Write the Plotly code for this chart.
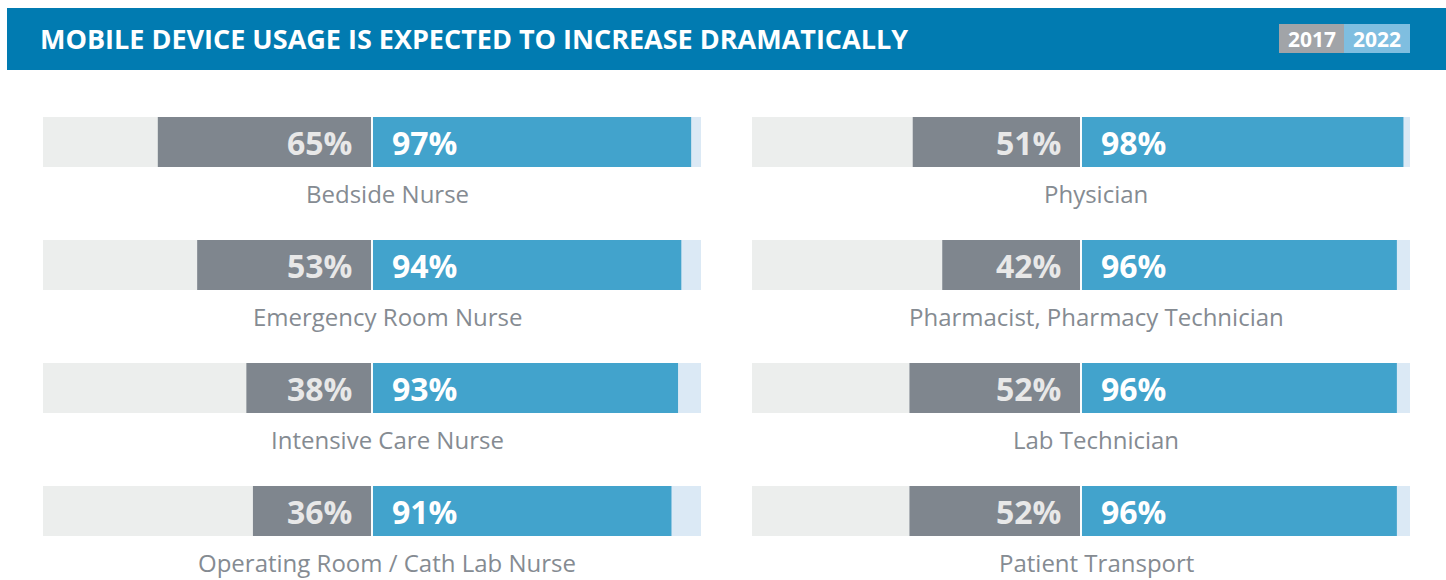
import plotly.graph_objects as go

# ---------------- data ----------------
title = "MOBILE DEVICE USAGE IS EXPECTED TO INCREASE DRAMATICALLY"
years = ["2017", "2022"]

left_roles = ["Bedside Nurse", "Emergency Room Nurse", "Intensive Care Nurse",
              "Operating Room / Cath Lab Nurse"]
left_2017 = [65, 53, 38, 36]
left_2022 = [97, 94, 93, 91]

right_roles = ["Physician", "Pharmacist, Pharmacy Technician", "Lab Technician",
               "Patient Transport"]
right_2017 = [51, 42, 52, 52]
right_2022 = [98, 96, 96, 96]

full_scale = [100, 100, 100, 100]

# ---------------- style ----------------
W, H = 1446, 580
HEADER_BLUE = "#017bb1"
GRAY = "#7f868e"
BLUE = "#42a3cc"
BG_GRAY = "#eceeed"
BG_BLUE = "#dbe9f5"
LABEL_GRAY = "#858b92"
FONT = "Open Sans"

GAP = 0.3           # half gap between the two halves (axis units)
PX_PER_UNIT = 3.28  # 328 px per 100 %
rows = list(range(4))
BAR_W = 50 / 123
LABEL_OFF = 51.5 / 123

fig = go.Figure()


def add_panel(xa, roles, v17, v22):
    xref = "x" if xa == "x" else "x2"
    # backgrounds
    fig.add_trace(go.Bar(y=rows, x=[-v for v in full_scale], base=-GAP, orientation="h",
                         marker=dict(color=BG_GRAY, line_width=0), width=BAR_W,
                         xaxis=xref, yaxis="y", hoverinfo="skip", showlegend=False))
    fig.add_trace(go.Bar(y=rows, x=full_scale, base=GAP, orientation="h",
                         marker=dict(color=BG_BLUE, line_width=0), width=BAR_W,
                         xaxis=xref, yaxis="y", hoverinfo="skip", showlegend=False))
    # values
    fig.add_trace(go.Bar(y=rows, x=[-v for v in v17], base=-GAP, orientation="h",
                         marker=dict(color=GRAY, line_width=0), width=BAR_W,
                         xaxis=xref, yaxis="y", name=years[0], showlegend=False))
    fig.add_trace(go.Bar(y=rows, x=v22, base=GAP, orientation="h",
                         marker=dict(color=BLUE, line_width=0), width=BAR_W,
                         xaxis=xref, yaxis="y", name=years[1], showlegend=False))
    for i, (r, a, b) in enumerate(zip(roles, v17, v22)):
        fig.add_annotation(x=-GAP - 17 / PX_PER_UNIT, y=i, xref=xref, yref="y",
                           text=f"<b>{a}%</b>", showarrow=False, xanchor="right",
                           yanchor="middle",
                           font=dict(family=FONT, size=32, color="#e8e8e8"))
        fig.add_annotation(x=GAP + 17 / PX_PER_UNIT, y=i, xref=xref, yref="y",
                           text=f"<b>{b}%</b>", showarrow=False, xanchor="left",
                           yanchor="middle",
                           font=dict(family=FONT, size=32, color="white"))
        fig.add_annotation(x=15 / PX_PER_UNIT, y=i + LABEL_OFF, xref=xref, yref="y",
                           text=r, showarrow=False, xanchor="center", yanchor="middle",
                           font=dict(family=FONT, size=24, color=LABEL_GRAY))


add_panel("x", left_roles, left_2017, left_2022)
add_panel("x2", right_roles, right_2017, right_2022)

# header band
fig.add_shape(type="rect", xref="paper", yref="paper",
              x0=7 / W, x1=1, y0=1 - 70 / H, y1=1 - 8 / H,
              fillcolor=HEADER_BLUE, line_width=0, layer="below")
fig.add_annotation(xref="paper", yref="paper", x=38 / W, y=1 - 38.5 / H,
                   text=f"<b>{title}</b>", showarrow=False, xanchor="left",
                   yanchor="middle", font=dict(family=FONT, size=27, color="white"))
# legend boxes
for (x0, x1, col), yr in zip([(1279, 1344, "#a1a4a8"), (1344, 1410, "#7fbee0")], years):
    fig.add_shape(type="rect", xref="paper", yref="paper",
                  x0=x0 / W, x1=x1 / W, y0=1 - 53 / H, y1=1 - 24 / H,
                  fillcolor=col, line_width=0)
    fig.add_annotation(xref="paper", yref="paper", x=(x0 + x1) / 2 / W, y=1 - 39 / H,
                       text=f"<b>{yr}</b>", showarrow=False, xanchor="center",
                       yanchor="middle", font=dict(family=FONT, size=21, color="white"))

# y range: pixel p -> (p - 142) / 123
y_top = (0 - 142) / 123
y_bot = (H - 142) / 123
rng = [-100 - GAP, 100 + GAP]
fig.update_layout(
    width=W, height=H, margin=dict(l=0, r=0, t=0, b=0),
    paper_bgcolor="white", plot_bgcolor="rgba(0,0,0,0)",
    barmode="overlay", showlegend=False,
    xaxis=dict(domain=[43 / W, 701 / W], range=rng, visible=False, fixedrange=True),
    xaxis2=dict(domain=[752 / W, 1410 / W], range=rng, visible=False, fixedrange=True,
                anchor="y"),
    yaxis=dict(domain=[0, 1], range=[y_bot, y_top], visible=False, fixedrange=True),
)

fig.write_html("out.html",
               config={"displayModeBar": False},
               post_script="document.body.style.margin='0';"
                           "document.body.style.overflow='hidden';")
